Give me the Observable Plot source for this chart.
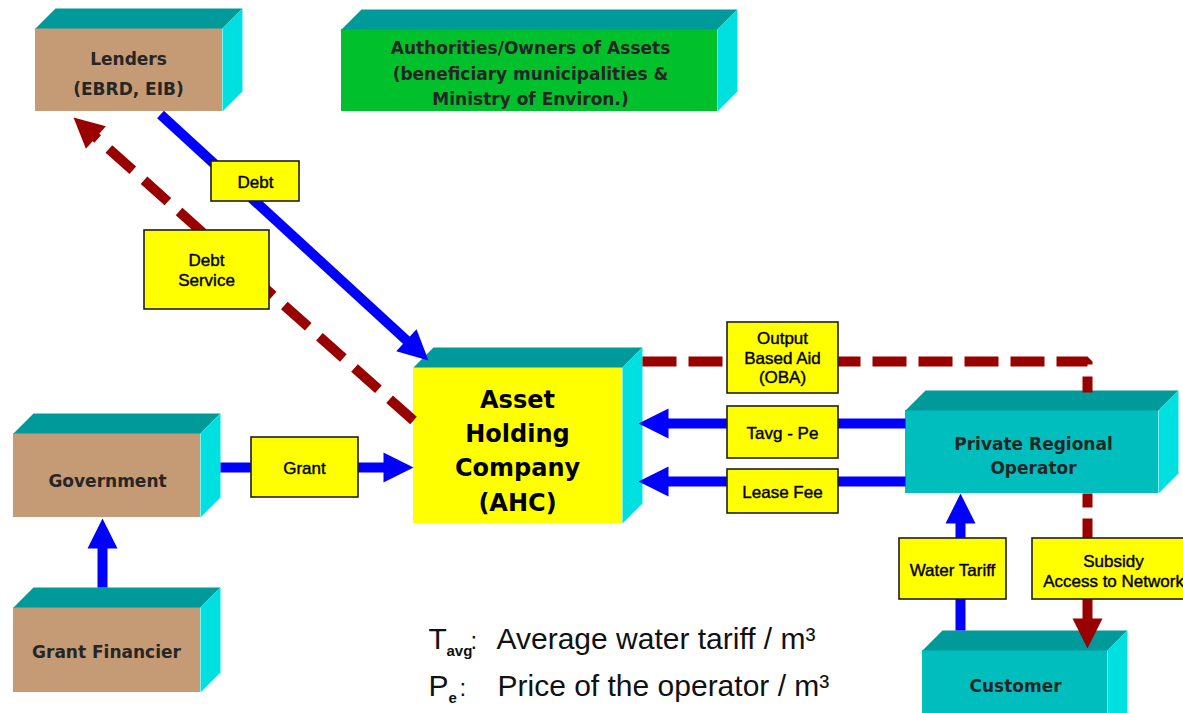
<!DOCTYPE html>
<html><head><meta charset="utf-8">
<script src="https://cdn.jsdelivr.net/npm/d3@7"></script>
<script src="https://cdn.jsdelivr.net/npm/@observablehq/plot@0.6"></script>
<style>html,body{margin:0;padding:0;background:#fff;overflow:hidden}#chart svg{display:block}</style>
</head><body><div id="chart"></div>
<script>
// ---------- DATA (layout units of the diagram) ----------
// Entities (3D blocks)
const nodeIds    = ["lenders","authorities","government","grantFinancier","ahc","operator","customer"];
const nodeLabels = ["Lenders\n(EBRD, EIB)",
  "Authorities/Owners of Assets\n(beneficiary municipalities &\nMinistry of Environ.)",
  "Government","Grant Financier","Asset\nHolding\nCompany\n(AHC)",
  "Private Regional\nOperator","Customer"];
const nodeKinds  = ["finance","owner","finance","finance","holding","operator","operator"];
const nodeLeft   = [35, 341, 13, 13, 413, 905, 922];
const nodeRight  = [222, 717, 200, 200, 622, 1158, 1107];
const nodeTop    = [28, 29, 433, 607, 367, 410, 650];
const nodeBottom = [111, 111, 517, 692, 523, 493, 740];
const nodeTextX  = [128, 530, 107, 106, 517, 1033, 1015];
const nodeTextY  = [70, 71, 479, 650, 448, 454, 684];

// Flows (arrows)
const flowIds   = ["debt","debtService","grant","grantFin","oba","tavg","lease","water","subsidy"];
const flowKinds = ["money","repayment","money","money","repayment","money","money","money","repayment"];
const flowPaths = [
  [[160,114],[428,360]],
  [[413,420],[73,117]],
  [[220,467],[413,467]],
  [[102,587],[102,518]],
  [[642,361],[1087,361],[1087,392]],
  [[905,423],[638,423]],
  [[905,481],[638,481]],
  [[960,630],[960,493]],
  [[1087,493],[1087,648]]
];
const flowHasHead = [true,true,true,true,false,true,true,true,true];

// Flow tags (yellow labels)
const tagLabels = ["Debt","Debt\nService","Grant","Output\nBased Aid\n(OBA)","Tavg - Pe","Lease Fee","Water Tariff","Subsidy\nAccess to Network"];
const tagLeft   = [211, 144, 251, 727, 727, 727, 899, 1032];
const tagRight  = [299, 269, 358, 838, 838, 838, 1006, 1210];
const tagTop    = [161, 230, 437, 322, 406, 469, 538, 538];
const tagBottom = [201, 309, 497, 393, 458, 513, 599, 599];
const tagTextX  = [255, 206, 304, 782, 782, 782, 952, 1113];
const tagTextY  = [181, 269, 467, 357, 432, 491, 569, 570];

// Legend
const legendSymbols = ["T","P"];
const legendSubs    = ["avg","e"];
const legendTexts   = ["Average water tariff / m³","Price of the operator / m³"];

// ---------- STYLE ----------
const W = 1183, H = 713;
const depth = 20;
const kindDomain = ["finance","owner","holding","operator"];
const kindRange  = ["#c49b75","#00c12b","#ffff00","#00bebe"];
const topColor = "#009a9a", sideColor = "#00e0e0";
const moneyColor = "#0000ff", repayColor = "#990000";
const headLen = 30, headWidth = 30;
const dashFor = {oba: "34,12", debtService: "32,15", subsidy: "14,11,400"};
const nodeFont = {ahc: 24};
const nodeLH = {lenders: 1.75, authorities: 1.5, ahc: 1.42, operator: 1.42};
const boxFont = "'DejaVu Sans', Verdana, sans-serif";
const tagFont = "'Liberation Sans', Arial, sans-serif";

// ---------- BUILD ----------
const nodes = nodeIds.map((id, i) => ({id, label: nodeLabels[i], kind: nodeKinds[i],
  x1: nodeLeft[i], x2: nodeRight[i], y1: nodeTop[i], y2: nodeBottom[i], tx: nodeTextX[i], ty: nodeTextY[i]}));
const topFaces = nodes.flatMap(n => [[n.x1,n.y1],[n.x1+depth,n.y1-depth],[n.x2+depth,n.y1-depth],[n.x2,n.y1]]
  .map(([x,y]) => ({id: n.id, x, y})));
const sideFaces = nodes.flatMap(n => [[n.x2,n.y1],[n.x2+depth,n.y1-depth],[n.x2+depth,n.y2-depth],[n.x2,n.y2]]
  .map(([x,y]) => ({id: n.id, x, y})));

const shafts = [], heads = [];
flowIds.forEach((id, i) => {
  const pts = flowPaths[i].map(p => p.slice());
  if (flowHasHead[i]) {
    const [tx, ty] = pts[pts.length-1], [px, py] = pts[pts.length-2];
    const L = Math.hypot(tx-px, ty-py), ux = (tx-px)/L, uy = (ty-py)/L;
    const bx = tx - ux*headLen, by = ty - uy*headLen;
    const nx = -uy, ny = ux;
    [[tx,ty],[bx+nx*headWidth/2, by+ny*headWidth/2],[bx-nx*headWidth/2, by-ny*headWidth/2]]
      .forEach(([x,y]) => heads.push({id, kind: flowKinds[i], x, y}));
    pts[pts.length-1] = [tx - ux*15, ty - uy*15];
  }
  pts.forEach(([x,y]) => shafts.push({id, kind: flowKinds[i], x, y}));
});

const tags = tagLabels.map((label, i) => ({label, x1: tagLeft[i], x2: tagRight[i], y1: tagTop[i], y2: tagBottom[i], tx: tagTextX[i], ty: tagTextY[i]}));

const shaftMarks = flowIds.map((id, i) => Plot.line(shafts.filter(d => d.id === id), {
  x: "x", y: "y",
  stroke: flowKinds[i] === "money" ? moneyColor : repayColor,
  strokeWidth: 10, strokeLinecap: "butt", strokeLinejoin: "miter",
  strokeDasharray: dashFor[id] || null
}));

const nodeTextMarks = nodes.map(n => Plot.text([n], {
  x: "tx", y: "ty", text: "label",
  fontFamily: boxFont, fontWeight: "bold",
  fontSize: nodeFont[n.id] || 17,
  lineHeight: nodeLH[n.id] || 1.4,
  fill: n.id === "ahc" ? "#000" : "#262626"
}));

const legendRows = legendSymbols.map((s, i) => ({sym: s, sub: legendSubs[i], text: legendTexts[i], row: i}));
const rowBase = [648, 695];

const plot = Plot.plot({
  width: W, height: H,
  margin: 0,
  x: {domain: [0, W], range: [0, W], axis: null},
  y: {domain: [0, H], range: [0, H], axis: null},
  color: {domain: kindDomain, range: kindRange},
  style: {background: "#fff"},
  marks: [
    // 3D blocks
    Plot.rect(nodes, {x1: "x1", x2: "x2", y1: "y1", y2: "y2", fill: "kind"}),
    Plot.line(topFaces, {x: "x", y: "y", z: "id", fill: topColor, stroke: "none", curve: "linear-closed"}),
    Plot.line(sideFaces, {x: "x", y: "y", z: "id", fill: sideColor, stroke: "none", curve: "linear-closed"}),
    // arrows
    ...shaftMarks,
    Plot.line(heads.filter(d => d.kind === "money"), {x: "x", y: "y", z: "id", fill: moneyColor, stroke: "none", curve: "linear-closed"}),
    Plot.line(heads.filter(d => d.kind === "repayment"), {x: "x", y: "y", z: "id", fill: repayColor, stroke: "none", curve: "linear-closed"}),
    // tags
    Plot.rect(tags, {x1: "x1", x2: "x2", y1: "y1", y2: "y2", fill: "#ffff00", stroke: "#1e1e1e", strokeWidth: 1.6}),
    Plot.text(tags, {x: "tx", y: "ty", text: "label", fontFamily: tagFont, fontSize: 17, lineHeight: 1.15, fill: "#000", stroke: "#2a2a00", strokeWidth: 0.45}),
    // block labels
    ...nodeTextMarks,
    // legend
    Plot.text(legendRows, {x: 428, y: d => rowBase[d.row], text: "sym", textAnchor: "start", lineAnchor: "bottom", fontFamily: tagFont, fontSize: 30, fill: "#111"}),
    Plot.text(legendRows, {x: d => d.row === 0 ? 446 : 448, y: d => rowBase[d.row] + 7, text: "sub", textAnchor: "start", lineAnchor: "bottom", fontFamily: tagFont, fontWeight: "bold", fontSize: 15, fill: "#111"}),
    Plot.text(legendRows, {x: d => d.row === 0 ? 470 : 459, y: d => rowBase[d.row], text: d => ":", textAnchor: "start", lineAnchor: "bottom", fontFamily: tagFont, fontSize: 24, fill: "#111"}),
    Plot.text(legendRows, {x: d => d.row === 0 ? 496 : 497, y: d => rowBase[d.row], text: "text", textAnchor: "start", lineAnchor: "bottom", fontFamily: tagFont, fontSize: 30, fill: "#111"})
  ]
});
document.getElementById("chart").appendChild(plot);
</script>
</body></html>
